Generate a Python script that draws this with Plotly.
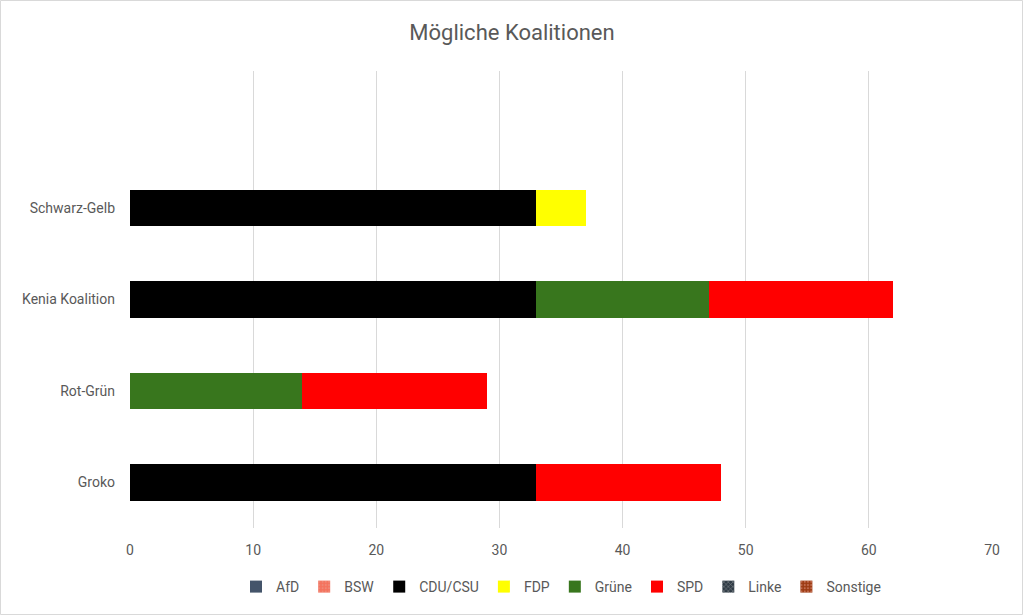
import plotly.graph_objects as go

categories = ["Groko", "Rot-Grün", "Kenia Koalition", "Schwarz-Gelb"]
parties = ["AfD", "BSW", "CDU/CSU", "FDP", "Grüne", "SPD", "Linke", "Sonstige"]
afd = [0, 0, 0, 0]
bsw = [0, 0, 0, 0]
cdu = [33, 0, 33, 33]
fdp = [0, 0, 0, 4]
gruene = [0, 14, 14, 0]
spd = [15, 15, 15, 0]
linke = [0, 0, 0, 0]
sonstige = [0, 0, 0, 0]
x_ticks = [0, 10, 20, 30, 40, 50, 60, 70]

values = [afd, bsw, cdu, fdp, gruene, spd, linke, sonstige]
colors = ["#44546A", "#F4725D", "#000000", "#FFFF00", "#38761D", "#FF0000", "#2F3B45", "#9C3A12"]
patterns = ["", ".", "", "", "", "", "x", "."]

W, H = 1024, 616
L, R, T, B = 130, 32, 71, 88
pw, ph = W - L - R, H - T - B
FONT = "Liberation Sans Narrow, Roboto, sans-serif"

fig = go.Figure()
for name, vals, col, pat in zip(parties, values, colors, patterns):
    marker = dict(color=col, line=dict(width=0))
    if pat:
        marker["pattern"] = dict(shape=pat, fgcolor="#D9D9D9" if pat == "x" else "#E8A090", size=4, solidity=0.3)
    fig.add_trace(go.Bar(y=categories, x=vals, name=name, orientation="h", marker=marker))

fig.update_layout(
    barmode="stack",
    bargap=0.6,
    width=W, height=H,
    margin=dict(l=L, r=R, t=T, b=B),
    paper_bgcolor="white", plot_bgcolor="white",
    font=dict(family=FONT, color="#595959", size=14),
    title=dict(text="Mögliche Koalitionen", x=0.5, xanchor="center", y=1 - 32 / H, yanchor="middle",
               font=dict(size=22, color="#595959", family=FONT)),
    xaxis=dict(range=[0, 70], tickvals=x_ticks, showgrid=True, gridcolor="#D9D9D9", gridwidth=1,
               zeroline=False, showline=False, ticklabelstandoff=12, tickfont=dict(size=14, color="#595959")),
    yaxis=dict(type="category", range=[-0.5, 4.5], showgrid=False, zeroline=False, showline=False,
               ticklabelstandoff=14, tickfont=dict(size=14, color="#595959")),
    legend=dict(orientation="h", x=0.5, xanchor="center", y=(528 - 587) / ph, yanchor="middle",
                font=dict(size=14, color="#595959"), traceorder="normal", itemwidth=30),
    showlegend=True,
)
fig.add_shape(type="rect", xref="paper", yref="paper",
              x0=-(L - 0.5) / pw, x1=1 + (R - 1.5) / pw, y0=-(B - 1.5) / ph, y1=1 + (T - 0.5) / ph,
              line=dict(color="#D9D9D9", width=1), layer="below")
fig.write_html("out.html", config={"displayModeBar": False},
               post_script="document.body.style.margin='0';document.body.style.overflow='hidden';")
